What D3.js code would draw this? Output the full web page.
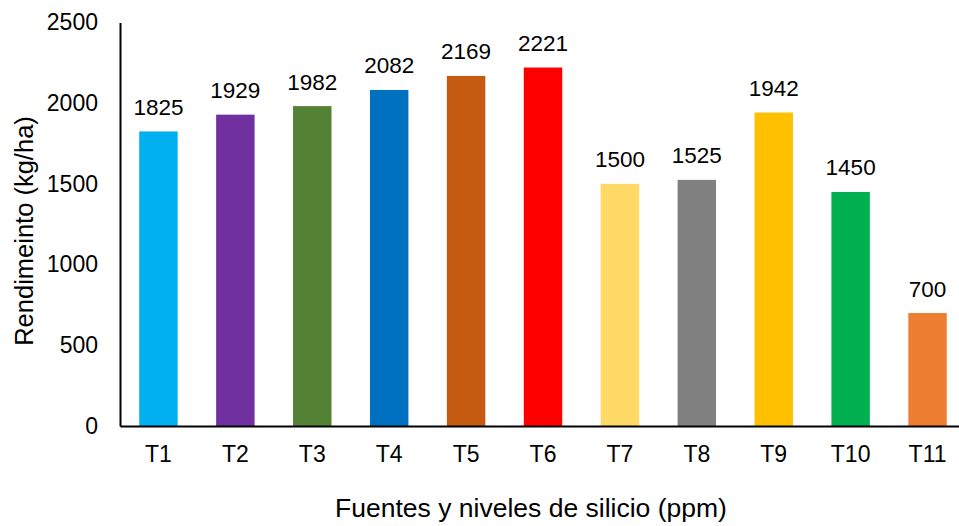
<!DOCTYPE html>
<html>
<head>
<meta charset="utf-8">
<script src="https://cdn.jsdelivr.net/npm/d3@7/dist/d3.min.js"></script>
<style>
  html, body { margin: 0; padding: 0; background: #fff; }
  svg { display: block; font-family: "Liberation Sans", Arial, sans-serif; }
</style>
</head>
<body>
<svg id="chart" width="959" height="526"></svg>
<script>
// Treatments and yields
const categories = ["T1", "T2", "T3", "T4", "T5", "T6", "T7", "T8", "T9", "T10", "T11"];
const values = [1825, 1929, 1982, 2082, 2169, 2221, 1500, 1525, 1942, 1450, 700];
const colors = ["#00B0F0", "#7030A0", "#548235", "#0070C0", "#C55A11", "#FF0000",
                "#FFD966", "#808080", "#FFC000", "#00B050", "#ED7D31"];
const yTicks = [0, 500, 1000, 1500, 2000, 2500];

const svg = d3.select("#chart");
const plotLeft = 120, plotRight = 966, plotTop = 22.5, plotBottom = 426;
const fontFamily = "'Liberation Sans', Arial, sans-serif";

const x = d3.scaleBand().domain(categories).range([plotLeft, plotRight]).paddingInner(0.5).paddingOuter(0.25);
const y = d3.scaleLinear().domain([0, 2500]).range([plotBottom, plotTop]);

// Bars
svg.append("g").selectAll("rect")
  .data(categories)
  .join("rect")
  .attr("x", d => x(d))
  .attr("width", x.bandwidth())
  .attr("y", (d, i) => y(values[i]))
  .attr("height", (d, i) => y(0) - y(values[i]))
  .attr("fill", (d, i) => colors[i]);

// Value labels
svg.append("g").selectAll("text")
  .data(categories)
  .join("text")
  .attr("x", d => x(d) + x.bandwidth() / 2)
  .attr("y", (d, i) => y(values[i]) - 16.5)
  .attr("text-anchor", "middle")
  .attr("font-size", 22.5)
  .attr("fill", "#000")
  .text((d, i) => values[i]);

// Y axis
const yAxis = svg.append("g")
  .attr("transform", `translate(${plotLeft},0)`)
  .call(d3.axisLeft(y).tickValues(yTicks).tickFormat(d3.format("d")).tickSize(0).tickPadding(22));
yAxis.select(".domain").attr("stroke", "#000").attr("stroke-width", 2);
yAxis.selectAll("text").attr("font-size", 23).attr("fill", "#000")
  .attr("font-family", fontFamily);

// X axis
const xAxis = svg.append("g")
  .attr("transform", `translate(0,${plotBottom})`)
  .call(d3.axisBottom(x).tickSize(0).tickPadding(19.5));
xAxis.select(".domain").attr("stroke", "#000").attr("stroke-width", 2);
xAxis.selectAll("text").attr("font-size", 23).attr("fill", "#000")
  .attr("font-family", fontFamily);

// Axis titles
svg.append("text")
  .attr("x", 531).attr("y", 517)
  .attr("text-anchor", "middle")
  .attr("font-size", 26.5)
  .attr("fill", "#000")
  .text("Fuentes y niveles de silicio (ppm)");

svg.append("text")
  .attr("transform", "translate(33,231) rotate(-90)")
  .attr("text-anchor", "middle")
  .attr("font-size", 25.5)
  .attr("fill", "#000")
  .text("Rendimeinto (kg/ha)");
</script>
</body>
</html>
